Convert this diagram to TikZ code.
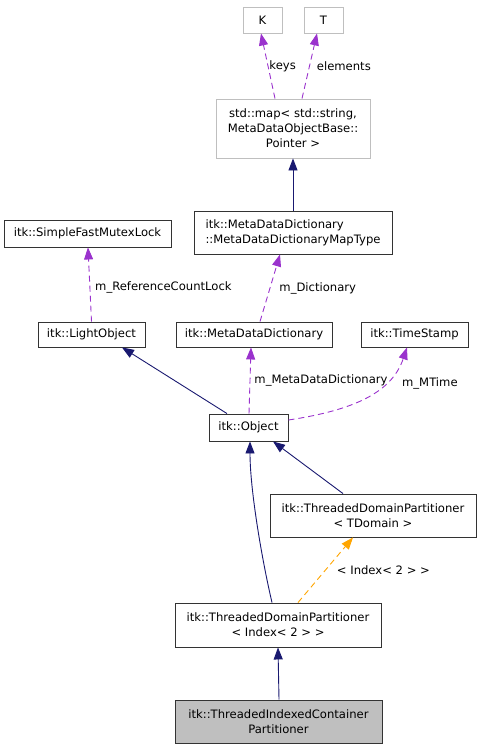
\documentclass[tikz,border=0pt]{standalone}
\usepackage{fontspec}
\setmainfont{DejaVu Sans}
\usetikzlibrary{arrows.meta}
\definecolor{navy}{HTML}{191970}
\definecolor{orchid}{HTML}{9A32CD}
\definecolor{amber}{HTML}{FFA500}
\definecolor{lightgrey}{HTML}{BFBFBF}
\begin{document}
\begin{tikzpicture}[x=1pt,y=-1pt,
	font=\fontsize{11.6}{15}\selectfont,
	cls/.style={shape=rectangle,draw=black!80,line width=0.9pt,inner sep=0pt,align=center},
	ext/.style={shape=rectangle,draw=lightgrey,line width=0.9pt,inner sep=0pt,align=center},
	inherit/.style={color=navy,line width=0.9pt,-{Triangle[length=12pt,width=9pt]}},
	member/.style={color=orchid,line width=0.9pt,dash pattern=on 6pt off 4pt,-{Triangle[length=12pt,width=9pt]}},
	tmpl/.style={color=amber,line width=0.9pt,dash pattern=on 6pt off 4pt,-{Triangle[length=12pt,width=9pt]}},
	lbl/.style={anchor=west,inner sep=1pt,text=black}]
	\useasboundingbox (0,0) rectangle (481,749);
	
	\node[ext,minimum width=39pt,minimum height=26pt] (K) at (262.5, 20) {K};
	\node[ext,minimum width=39pt,minimum height=26pt] (T) at (323.5, 20) {T};
	\node[ext,minimum width=154pt,minimum height=59pt] (map) at (293, 128.5) {std::map< std::string,\\ MetaDataObjectBase::\\Pointer >};
	\node[cls,minimum width=198pt,minimum height=43pt,align=left] (maptype) at (293, 232.5) {itk::MetaDataDictionary\\::MetaDataDictionaryMapType};
	\node[cls,minimum width=167pt,minimum height=27pt] (mutex) at (87.5, 233.5) {itk::SimpleFastMutexLock};
	\node[cls,minimum width=107pt,minimum height=25pt] (light) at (91.5, 334.5) {itk::LightObject};
	\node[cls,minimum width=156pt,minimum height=25pt] (mdd) at (254, 334.5) {itk::MetaDataDictionary};
	\node[cls,minimum width=107pt,minimum height=25pt] (stamp) at (414.5, 334.5) {itk::TimeStamp};
	\node[cls,minimum width=79pt,minimum height=27pt] (obj) at (248.5, 427.5) {itk::Object};
	\node[cls,minimum width=206pt,minimum height=43pt] (tdom) at (373, 515.5) {itk::ThreadedDomainPartitioner\\< TDomain >};
	\node[cls,minimum width=206pt,minimum height=44pt] (idx) at (278, 625) {itk::ThreadedDomainPartitioner\\< Index< 2 > >};
	\node[cls,fill=lightgrey,minimum width=207pt,minimum height=43pt] (part) at (278.5, 721.5) {itk::ThreadedIndexedContainer\\Partitioner};
	
	\draw[member] ([xshift=-18pt]map.north) -- node[lbl] {keys} ([xshift=-1.5pt]K.south);
	\draw[member] ([xshift=9pt]map.north) -- node[lbl,xshift=6pt] {elements} ([xshift=-6.5pt]T.south);
	\draw[inherit] (maptype.north) -- (map.south);
	\draw[member] ([xshift=6pt]mdd.north) -- node[lbl,xshift=8pt] {m\_Dictionary} ([xshift=-13pt]maptype.south);
	\draw[member] (light.north) -- node[lbl,xshift=4pt,yshift=-3pt] {m\_ReferenceCountLock} ([xshift=0.5pt]mutex.south);
	\draw[inherit] ([xshift=-21.5pt]obj.north) -- ([xshift=30.5pt]light.south);
	\draw[member] ([xshift=0.5pt]obj.north) -- node[lbl,xshift=3pt] {m\_MetaDataDictionary} ([xshift=-3pt]mdd.south);
	\draw[member] ([yshift=7.5pt]obj.east) .. controls (355,410) and (392,392) .. node[lbl,pos=0.67,xshift=16pt] {m\_MTime} ([xshift=-7.5pt]stamp.south);
	\draw[inherit] ([xshift=-6pt]idx.north) .. controls (262,560) and (250,490) .. ([xshift=1.5pt]obj.south);
	\draw[inherit] ([xshift=-30pt]tdom.north) -- ([xshift=24.5pt]obj.south);
	\draw[tmpl] ([xshift=20pt]idx.north) -- node[lbl,xshift=10pt] {< Index< 2 > >} ([xshift=-20pt]tdom.south);
	\draw[inherit] ([xshift=0.5pt]part.north) -- (idx.south);
	
\end{tikzpicture}
\end{document}
